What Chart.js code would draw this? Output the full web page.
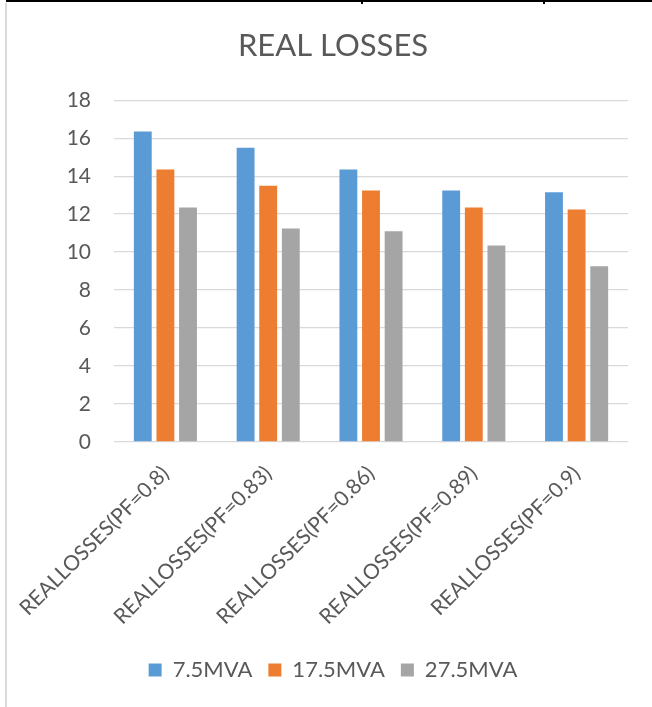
<!DOCTYPE html>
<html>
<head>
<meta charset="utf-8">
<script src="https://cdn.jsdelivr.net/npm/chart.js@4"></script>
<style>
  html, body { margin: 0; padding: 0; background: #fff; }
  #wrap { position: relative; width: 652px; height: 707px; }
  #chart { position: absolute; left: 0; top: 0; }
  .rule { position: absolute; }
</style>
</head>
<body>
<div id="wrap">
  <canvas id="chart" width="652" height="707"></canvas>
  <div class="rule" style="left:6px; top:0; width:646px; height:2px; background:#000;"></div>
  <div class="rule" style="left:361px; top:0; width:2px; height:4px; background:#000;"></div>
  <div class="rule" style="left:543px; top:0; width:2px; height:4px; background:#000;"></div>
  <div class="rule" style="left:5px; top:3px; width:2px; height:704px; background:#d9d9d9;"></div>
</div>
<script>
const categories = [
  "REALLOSSES(PF=0.8)",
  "REALLOSSES(PF=0.83)",
  "REALLOSSES(PF=0.86)",
  "REALLOSSES(PF=0.89)",
  "REALLOSSES(PF=0.9)",
];
const seriesNames = ["7.5MVA", "17.5MVA", "27.5MVA"];
const mva7_5  = [16.35, 15.5, 14.35, 13.25, 13.15];
const mva17_5 = [14.35, 13.5, 13.25, 12.35, 12.25];
const mva27_5 = [12.35, 11.25, 11.1, 10.35, 9.25];
const yTicks = [0, 2, 4, 6, 8, 10, 12, 14, 16, 18];

const COLORS = ["#5b9bd5", "#ed7d31", "#a5a5a5"];
const TEXT = "#595959";
const FONT = "Lato";

const ctx = document.getElementById("chart").getContext("2d");
new Chart(ctx, {
  type: "bar",
  data: {
    labels: categories,
    datasets: [mva7_5, mva17_5, mva27_5].map((values, i) => ({
      label: seriesNames[i],
      data: values,
      backgroundColor: COLORS[i],
      borderWidth: 0,
      categoryPercentage: 0.66,
      barPercentage: 0.79,
    })),
  },
  options: {
    responsive: false,
    animation: false,
    // left padding shifts the title/legend centre to match the original
    layout: { padding: { top: 0, right: 24, bottom: 16, left: 38 } },
    plugins: {
      title: {
        display: true,
        text: "REAL LOSSES",
        color: TEXT,
        font: { family: FONT, size: 31, weight: "normal" },
        padding: { top: 27, bottom: 36 },
      },
      legend: {
        position: "bottom",
        labels: {
          color: TEXT,
          font: { family: FONT, size: 22 },
          boxWidth: 13,
          boxHeight: 13,
          padding: 16,
        },
      },
      tooltip: { enabled: false },
    },
    scales: {
      x: {
        grid: { display: false },
        border: { display: false },
        ticks: {
          color: TEXT,
          font: { family: FONT, size: 21 },
          maxRotation: 45,
          minRotation: 45,
          padding: 11,
        },
        afterFit: s => { s.height = 201; },
      },
      y: {
        min: 0,
        max: 18,
        afterBuildTicks: s => { s.ticks = yTicks.map(v => ({ value: v })); },
        grid: { color: "#d9d9d9", lineWidth: 1.3, drawTicks: false },
        border: { display: false },
        ticks: {
          color: TEXT,
          font: { family: FONT, size: 21 },
          padding: 23,
        },
        afterFit: s => { s.width = 76; },
      },
    },
  },
});
</script>
</body>
</html>
